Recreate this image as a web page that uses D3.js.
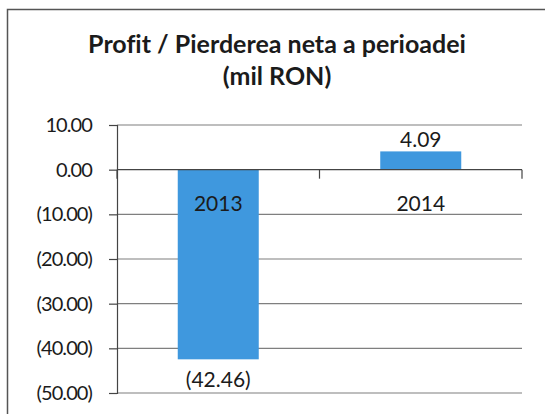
<!DOCTYPE html>
<html>
<head>
<meta charset="utf-8">
<script src="https://cdn.jsdelivr.net/npm/d3@7"></script>
<style>
  body { margin: 0; background: #fff; }
  svg text { font-family: Lato, "Open Sans", sans-serif; fill: #1b1b1b; font-variant-ligatures: none; }
</style>
</head>
<body>
<div id="chart"></div>
<script>
// chart data
const years = ["2013", "2014"];
const profit = [-42.46, 4.09];
const y_ticks = [10, 0, -10, -20, -30, -40, -50];
const title_lines = ["Profit / Pierderea neta a perioadei", "(mil RON)"];

// setup canvas
const canvas_width = 545;
const canvas_height = 414;
const margin = {left: 117, right: 23, top: 125, bottom: 21};

const svg = d3.select("#chart").append("svg")
  .attr("width", canvas_width)
  .attr("height", canvas_height);

// outer frame, runs off the right and bottom edge
svg.append("rect")
  .attr("x", 7.5).attr("y", 9.5)
  .attr("width", 560).attr("height", 430)
  .attr("fill", "none")
  .attr("stroke", "#555")
  .attr("stroke-width", 1.5);

// title
svg.append("text")
  .attr("text-anchor", "middle")
  .attr("font-weight", "bold")
  .attr("font-size", 25)
  .selectAll("tspan")
  .data(title_lines)
  .enter().append("tspan")
    .attr("x", 277)
    .attr("y", function(d, i) { return 53 + i * 32; })
    .text(function(d) { return d; });

const x = d3.scaleBand()
  .domain(years)
  .range([margin.left, canvas_width - margin.right])
  .paddingInner(0.6)
  .paddingOuter(0.3);

const y = d3.scaleLinear()
  .domain([-50, 10])
  .range([canvas_height - margin.bottom, margin.top]);

const fmt = function(v) {
  const s = d3.format(".2f")(Math.abs(v));
  return v < 0 ? "(" + s + ")" : s;
};

// gridlines
svg.append("g")
  .selectAll("line")
  .data(y_ticks.filter(function(d) { return d !== 0; }))
  .enter().append("line")
    .attr("x1", margin.left)
    .attr("x2", canvas_width - margin.right)
    .attr("y1", function(d) { return y(d); })
    .attr("y2", function(d) { return y(d); })
    .attr("stroke", "#7f7f7f")
    .attr("stroke-width", 1.2);

// y axis
const y_axis = svg.append("g")
  .attr("transform", "translate(" + margin.left + ",0)")
  .call(d3.axisLeft(y).tickValues(y_ticks).tickFormat(fmt).tickSize(8).tickPadding(17));
y_axis.select(".domain").attr("stroke", "#444").attr("stroke-width", 1.2);
y_axis.selectAll(".tick line").attr("stroke", "#444").attr("stroke-width", 1.2);
y_axis.selectAll(".tick text")
  .attr("font-size", 20)
  .attr("letter-spacing", -0.9)
  .attr("font-family", "Lato, sans-serif")
  .attr("fill", "#1b1b1b");

// bars
svg.append("g")
  .selectAll("rect")
  .data(profit)
  .enter().append("rect")
    .attr("x", function(d, i) { return x(years[i]); })
    .attr("width", x.bandwidth())
    .attr("y", function(d) { return y(Math.max(0, d)); })
    .attr("height", function(d) { return Math.abs(y(d) - y(0)); })
    .attr("fill", "#3f98de");

// category axis at zero
const band_edges = [margin.left, margin.left + (canvas_width - margin.right - margin.left) / 2, canvas_width - margin.right];
svg.append("line")
  .attr("x1", margin.left).attr("x2", canvas_width - margin.right)
  .attr("y1", y(0)).attr("y2", y(0))
  .attr("stroke", "#444").attr("stroke-width", 1.2);
svg.append("g")
  .selectAll("line")
  .data(band_edges)
  .enter().append("line")
    .attr("x1", function(d) { return d; })
    .attr("x2", function(d) { return d; })
    .attr("y1", y(0))
    .attr("y2", y(0) + 9)
    .attr("stroke", "#444").attr("stroke-width", 1.2);

// category labels below zero line
svg.append("g")
  .selectAll("text")
  .data(years)
  .enter().append("text")
    .attr("x", function(d) { return x(d) + x.bandwidth() / 2; })
    .attr("y", y(0) + 41)
    .attr("text-anchor", "middle")
    .attr("font-size", 21)
    .text(function(d) { return d; });

// value labels
svg.append("g")
  .selectAll("text")
  .data(profit)
  .enter().append("text")
    .attr("x", function(d, i) { return x(years[i]) + x.bandwidth() / 2; })
    .attr("y", function(d) { return d < 0 ? y(d) + 28 : y(d) - 4; })
    .attr("text-anchor", "middle")
    .attr("font-size", 21)
    .text(fmt);
</script>
</body>
</html>
